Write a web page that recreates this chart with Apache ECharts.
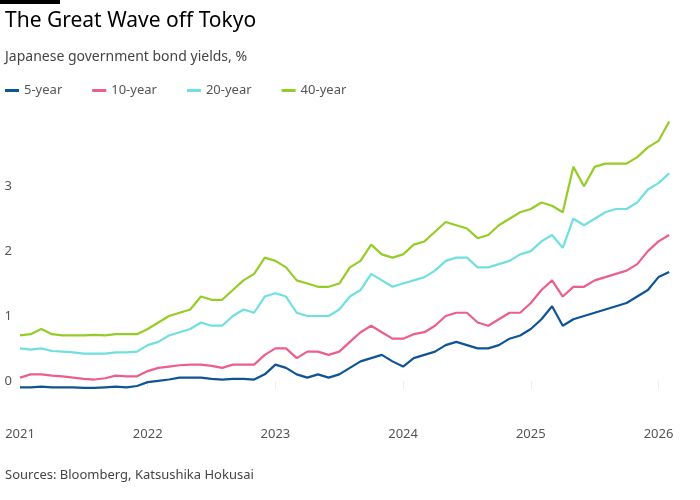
<!DOCTYPE html>
<html><head><meta charset="utf-8">
<script src="https://cdn.jsdelivr.net/npm/echarts@6/dist/echarts.min.js"></script>
<style>body{margin:0;background:#fff}#c{width:700px;height:500px}</style></head>
<body><div id="c"></div>
<script>
// x positions: fractional years, one point per month from Jan 2021 to Feb 2026
const months=[];for(let j=0;j<62;j++)months.push(2021+j/12);
const y5=[-0.1,-0.1,-0.09,-0.1,-0.1,-0.1,-0.11,-0.11,-0.1,-0.09,-0.1,-0.08,-0.02,0,0.02,0.05,0.05,0.05,0.03,0.02,0.03,0.03,0.02,0.1,0.25,0.2,0.1,0.05,0.1,0.05,0.1,0.2,0.3,0.35,0.4,0.3,0.22,0.35,0.4,0.45,0.55,0.6,0.55,0.5,0.5,0.55,0.65,0.7,0.8,0.95,1.15,0.85,0.95,1.0,1.05,1.1,1.15,1.2,1.3,1.4,1.6,1.68];
const y10=[0.05,0.1,0.1,0.08,0.07,0.05,0.03,0.02,0.04,0.08,0.07,0.07,0.15,0.2,0.22,0.24,0.25,0.25,0.23,0.2,0.25,0.25,0.25,0.4,0.5,0.5,0.35,0.45,0.45,0.4,0.45,0.6,0.75,0.85,0.75,0.65,0.65,0.72,0.75,0.85,1.0,1.05,1.05,0.9,0.85,0.95,1.05,1.05,1.2,1.4,1.55,1.3,1.45,1.45,1.55,1.6,1.65,1.7,1.8,2.0,2.15,2.25];
const y20=[0.5,0.48,0.5,0.46,0.45,0.44,0.42,0.42,0.42,0.44,0.44,0.45,0.55,0.6,0.7,0.75,0.8,0.9,0.85,0.85,1.0,1.1,1.05,1.3,1.35,1.3,1.05,1.0,1.0,1.0,1.1,1.3,1.4,1.65,1.55,1.45,1.5,1.55,1.6,1.7,1.85,1.9,1.9,1.75,1.75,1.8,1.85,1.95,2.0,2.15,2.25,2.05,2.5,2.4,2.5,2.6,2.65,2.65,2.75,2.95,3.05,3.2];
const y40=[0.7,0.72,0.8,0.72,0.7,0.7,0.7,0.71,0.7,0.72,0.72,0.72,0.8,0.9,1.0,1.05,1.1,1.3,1.25,1.25,1.4,1.55,1.65,1.9,1.85,1.75,1.55,1.5,1.45,1.45,1.5,1.75,1.85,2.1,1.95,1.9,1.95,2.1,2.15,2.3,2.45,2.4,2.35,2.2,2.25,2.4,2.5,2.6,2.65,2.75,2.7,2.6,3.3,3.0,3.3,3.35,3.35,3.35,3.45,3.6,3.7,4.0];
const names=['5-year','10-year','20-year','40-year'];
const colors=['#0f5499','#eb5e8d','#70dfdf','#96cc28'];
const vals=[y5,y10,y20,y40];
const F='"Noto Sans", sans-serif';
const chart=echarts.init(document.getElementById('c'));
chart.setOption({
 animation:false,
 title:[{text:'The Great Wave off Tokyo',left:0,top:6,textStyle:{fontFamily:F,fontSize:21,fontWeight:'normal',color:'#000'}},
        {text:'Japanese government bond yields, %',left:0,top:45,textStyle:{fontFamily:F,fontSize:14,fontWeight:'normal',color:'#444'}},
        {text:'Sources: Bloomberg, Katsushika Hokusai',left:0,top:464,textStyle:{fontFamily:F,fontSize:13,fontWeight:'normal',color:'#444'}}],
 graphic:[{type:'rect',shape:{x:0,y:0,width:60,height:4},style:{fill:'#000'}}],
 legend:{left:0,top:79,itemWidth:14,itemHeight:3,icon:'rect',itemGap:30,textStyle:{fontFamily:F,fontSize:13,color:'#555'},data:names},
 grid:{left:20,right:30,top:115,bottom:90},
 xAxis:{type:'value',min:2021,max:2026.09,interval:1,
   axisLine:{show:false},axisTick:{show:true,length:8,lineStyle:{color:'#eee'}},splitLine:{show:false},
   axisLabel:{fontFamily:F,fontSize:13,color:'#555',margin:18,showMaxLabel:false,formatter:v=>String(Math.round(v))}},
 yAxis:{type:'value',min:-0.45,max:4.1,
   axisLine:{show:false},axisTick:{show:false},splitLine:{show:false},
   axisLabel:{fontFamily:F,fontSize:13,color:'#555',margin:8,customValues:[0,1,2,3]}},
 series:vals.map((v,i)=>({name:names[i],type:'line',showSymbol:false,color:colors[i],lineStyle:{width:2.2,color:colors[i]},
   data:v.map((d,j)=>[months[j],d])}))
});
</script></body></html>
